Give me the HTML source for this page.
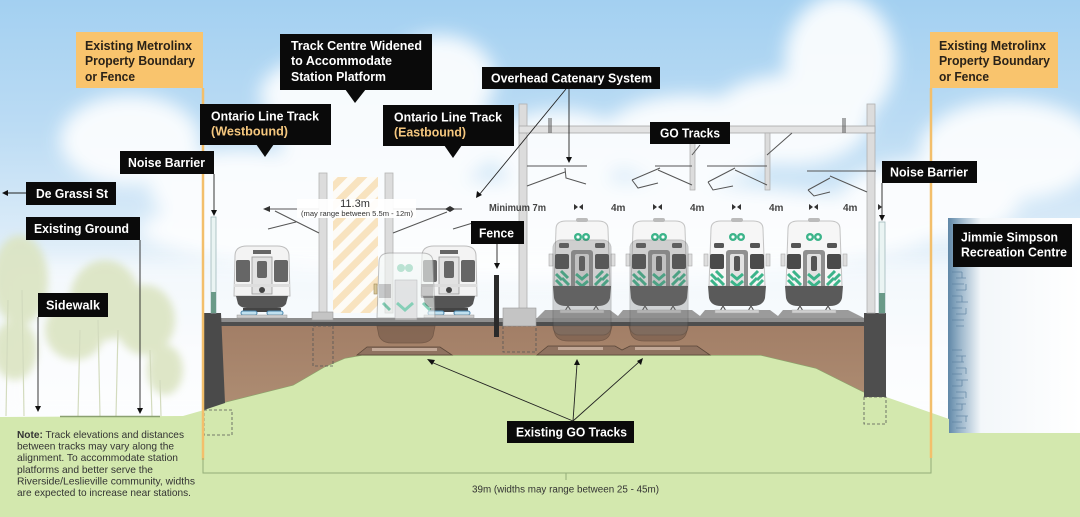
<!DOCTYPE html>
<html><head><meta charset="utf-8"><style>
html,body{margin:0;padding:0;width:1080px;height:517px;overflow:hidden;background:#fff}
svg{display:block}
.lb{font-family:"Liberation Sans",sans-serif;font-weight:bold;font-size:13px;fill:#fff}
.lo{font-family:"Liberation Sans",sans-serif;font-weight:bold;font-size:13px;fill:#2a2218}
.sm{font-family:"Liberation Sans",sans-serif;font-size:10px;fill:#333}
.dm{font-family:"Liberation Sans",sans-serif;font-weight:bold;font-size:10px;fill:#444}
</style></head><body>
<svg width="1080" height="517" viewBox="0 0 1080 517" xmlns="http://www.w3.org/2000/svg">
<defs>
<linearGradient id="sky" x1="0" y1="0" x2="0" y2="1">
<stop offset="0" stop-color="#a3d0f1"/>
<stop offset="0.25" stop-color="#bcdcf4"/>
<stop offset="0.5" stop-color="#e2eff9"/>
<stop offset="0.7" stop-color="#f7fafd"/>
<stop offset="1" stop-color="#ffffff"/>
</linearGradient>
<filter id="blur" x="-30%" y="-30%" width="160%" height="160%"><feGaussianBlur stdDeviation="9"/></filter>
<filter id="blur2" x="-30%" y="-30%" width="160%" height="160%"><feGaussianBlur stdDeviation="4"/></filter>
<pattern id="hatch" patternUnits="userSpaceOnUse" width="14" height="14" patternTransform="rotate(45)">
<rect width="14" height="14" fill="#fdfbf6"/><rect width="7" height="14" fill="#f8e3bf"/>
</pattern>
<linearGradient id="bld" x1="0" y1="0" x2="1" y2="0">
<stop offset="0" stop-color="#5f87a7"/>
<stop offset="0.1" stop-color="#9fb9cd"/>
<stop offset="0.25" stop-color="#f3f7fa"/>
<stop offset="1" stop-color="#ffffff"/>
</linearGradient>
<linearGradient id="earth" x1="0" y1="0" x2="0" y2="1">
<stop offset="0" stop-color="#a27e66"/>
<stop offset="1" stop-color="#ad8c72"/>
</linearGradient>
<g id="go">
<rect x="-3" y="34" width="4" height="12" fill="#ddd" stroke="#aaa" stroke-width=".6"/>
<rect x="59" y="34" width="4" height="12" fill="#ddd" stroke="#aaa" stroke-width=".6"/>
<path d="M4,9 Q4,1 14,1 L46,1 Q56,1 56,9 L58,66 L2,66 Z" fill="#f6f6f6" stroke="#c4c4c4" stroke-width="1"/>
<rect x="24" y="-2" width="12" height="4" rx="2" fill="#bbb"/>
<circle cx="26" cy="17" r="4" fill="#3cb48a"/><circle cx="34" cy="17" r="4" fill="#3cb48a"/>
<circle cx="26" cy="17" r="1.6" fill="#fff"/><circle cx="34" cy="17" r="1.6" fill="#fff"/>
<rect x="7" y="23" width="10" height="5" rx="1.5" fill="#555"/><rect x="43" y="23" width="10" height="5" rx="1.5" fill="#555"/>
<rect x="3" y="34" width="14" height="15" rx="2" fill="#4a4a4a"/><rect x="43" y="34" width="14" height="15" rx="2" fill="#4a4a4a"/>
<rect x="19" y="30" width="22" height="44" rx="3" fill="#8f8f8f"/>
<rect x="23" y="34" width="14" height="38" rx="2" fill="#e2e2e2"/>
<rect x="27" y="36" width="6" height="15" rx="2" fill="#555"/>
<path d="M4,54 L10,60 M4,60 L10,66 M9,51 L16,58 M10,58 L17,65" stroke="#3cb48a" stroke-width="3"/>
<path d="M56,54 L50,60 M56,60 L50,66 M51,51 L44,58 M50,58 L43,65" stroke="#3cb48a" stroke-width="3"/>
<path d="M24,54 L30,59 L36,54 M24,61 L30,66 L36,61" stroke="#3cb48a" stroke-width="3" fill="none"/>
<path d="M1,66 L59,66 L58,78 Q56,86 46,86 L14,86 Q4,86 2,78 Z" fill="#5a5a5a"/>
<path d="M16,86 L13,91 M16,86 L19,91 M44,86 L41,91 M44,86 L47,91" stroke="#555" stroke-width="1.2"/>
<rect x="8" y="90" width="44" height="3" fill="#d0d0d0" stroke="#aaa" stroke-width=".5"/>
</g>
<g id="ol">
<path d="M2,10 Q2,0 14,0 L44,0 Q56,0 56,10 L57,50 L1,50 Z" fill="#f3f3f3" stroke="#bdbdbd" stroke-width="1"/>
<rect x="20" y="4" width="18" height="4" fill="#666"/>
<rect x="3" y="14" width="14" height="22" rx="2" fill="#666"/>
<rect x="41" y="14" width="14" height="22" rx="2" fill="#666"/>
<rect x="19" y="11" width="20" height="37" fill="#e2e2e2" stroke="#999" stroke-width=".8"/>
<rect x="24" y="15" width="10" height="17" rx="2" fill="#666"/>
<rect x="1" y="38" width="56" height="3" fill="#ddd"/>
<circle cx="29" cy="44" r="3" fill="#444"/>
<path d="M3,50 L55,50 L53,58 Q50,62 44,62 L14,62 Q8,62 5,58 Z" fill="#555"/>
<rect x="10" y="62" width="38" height="4" fill="#444"/>
<rect x="8" y="65" width="16" height="4" rx="2" fill="#bfe0ef" stroke="#4a86ad" stroke-width="1"/>
<rect x="34" y="65" width="16" height="4" rx="2" fill="#bfe0ef" stroke="#4a86ad" stroke-width="1"/>
<rect x="4" y="69" width="50" height="3" fill="#ccc" stroke="#999" stroke-width=".5"/>
</g>
</defs>

<!-- sky -->
<rect width="1080" height="517" fill="url(#sky)"/>
<g filter="url(#blur)" fill="#fff" opacity="0.9">
<ellipse cx="390" cy="140" rx="110" ry="55"/>
<ellipse cx="330" cy="95" rx="70" ry="40"/>
<ellipse cx="440" cy="80" rx="55" ry="45"/>
<ellipse cx="840" cy="60" rx="55" ry="65"/>
<ellipse cx="790" cy="120" rx="80" ry="45"/>
<ellipse cx="690" cy="140" rx="90" ry="45"/>
<ellipse cx="560" cy="150" rx="70" ry="40"/>
<ellipse cx="130" cy="140" rx="70" ry="45"/>
<ellipse cx="1010" cy="150" rx="90" ry="50"/>
<ellipse cx="240" cy="190" rx="90" ry="40"/>
<ellipse cx="930" cy="200" rx="90" ry="40"/>
<ellipse cx="540" cy="230" rx="400" ry="50"/>
</g>
<rect x="0" y="260" width="1080" height="160" fill="#fff" opacity="0.55" filter="url(#blur)"/>

<!-- trees -->
<g opacity="0.9">
<g filter="url(#blur2)" fill="#dbe4c2">
<ellipse cx="20" cy="280" rx="28" ry="45"/>
<ellipse cx="105" cy="300" rx="35" ry="40"/>
<ellipse cx="75" cy="330" rx="30" ry="30"/>
<ellipse cx="145" cy="320" rx="30" ry="35"/>
<ellipse cx="165" cy="370" rx="18" ry="25"/>
<ellipse cx="15" cy="350" rx="22" ry="30"/>
</g>
<g stroke="#cfd8b8" stroke-width="1.2">
<line x1="8" y1="300" x2="6" y2="416"/><line x1="22" y1="290" x2="24" y2="416"/>
<line x1="80" y1="330" x2="78" y2="416"/><line x1="98" y1="320" x2="100" y2="416"/>
<line x1="118" y1="330" x2="116" y2="416"/><line x1="150" y1="350" x2="152" y2="416"/>
<line x1="160" y1="380" x2="161" y2="416"/>
</g>
</g>

<!-- building -->
<rect x="948" y="218" width="132" height="215" fill="url(#bld)"/>
<g stroke="#5a7f9e" stroke-width="0.8" fill="none" opacity="0.8">
<path d="M952,272 h10 M956,278 h10 M952,284 h12 M956,290 h10 M952,296 h10 M956,302 h12 M952,308 h10 M956,314 h10 M952,320 h12 M956,326 h8 M952,350 h10 M956,356 h10 M952,362 h12 M956,368 h10 M952,374 h10 M956,380 h12 M952,386 h10 M956,392 h10 M952,398 h12 M956,404 h10 M952,410 h10 M956,416 h12 M952,422 h10 M956,428 h10"/>
<path d="M962,272 v6 M966,284 v6 M962,296 v6 M966,308 v6 M962,356 v6 M966,368 v6 M962,380 v6 M966,392 v6 M962,404 v6 M966,416 v6"/>
</g>

<!-- ground -->
<path d="M0,417 L183,416 L204,410 L221,403 L293,385 L324,367 L345,358 L362,355 L761,355 L816,368 L864,392 L886,397 L949,419 L949,433 L1080,433 L1080,517 L0,517 Z" fill="#d3e8ae"/>
<line x1="60" y1="416.5" x2="160" y2="416.5" stroke="#8aa070" stroke-width="1.5"/>
<path d="M221,403 L293,385 L324,367 L345,358 L362,355 L761,355 L816,368 L864,392" fill="none" stroke="#8aa46a" stroke-width="1.2"/>

<!-- earth -->
<path d="M221,324 L864,324 L864,392 L816,368 L761,355 L362,355 L345,358 L324,367 L293,385 L221,403 Z" fill="url(#earth)"/>

<!-- deck -->
<rect x="221" y="318" width="643" height="4" fill="#8e8e8e"/>
<rect x="221" y="322" width="643" height="4" fill="#4e4e4e"/>
<path d="M537,318 L545,310 L610,310 L618,316 L623,310 L692,310 L700,316 L705,310 L770,310 L778,316 L783,310 L848,310 L864,318 Z" fill="#9b9b9b"/>

<!-- walls -->
<path d="M204,313 L221,313 L225,403 L204,410 Z" fill="#4a4a4a"/>
<rect x="864" y="313" width="22" height="84" fill="#4e4e4e"/>
<g fill="none" stroke="#555" stroke-width="0.8" stroke-dasharray="3,2">
<rect x="204" y="410" width="28" height="25"/>
<rect x="864" y="397" width="22" height="27"/>
<rect x="313" y="326" width="20" height="40"/>
<rect x="503" y="326" width="33" height="26"/>
</g>

<!-- lower ballast / existing tracks in earth -->
<path d="M357,355 L367,347 L440,347 L452,355 Z" fill="#8f7260" stroke="#5a4638" stroke-width="0.8"/>
<rect x="372" y="348" width="65" height="3" fill="#c2a897"/>
<path d="M537,355 L548,346 L615,346 L622,350 L630,346 L697,346 L710,355 Z" fill="#8f7260" stroke="#5a4638" stroke-width="0.8"/>
<rect x="558" y="347" width="45" height="3" fill="#c2a897"/><rect x="635" y="347" width="45" height="3" fill="#c2a897"/>
<g fill="#6e5546" opacity="0.55" stroke="#4d3a2e" stroke-width="0.8">
<path d="M377,326 L435,326 L433,336 Q430,343 420,343 L392,343 Q382,343 379,336 Z"/>
<path d="M553,326 L612,326 L610,334 Q607,341 597,341 L568,341 Q558,341 555,334 Z"/>
<path d="M629,326 L688,326 L686,334 Q683,341 673,341 L644,341 Q634,341 631,334 Z"/>
</g>

<!-- orange boundary lines -->
<line x1="203" y1="88" x2="203" y2="460" stroke="#f3bf6b" stroke-width="2.5"/>
<line x1="931" y1="88" x2="931" y2="458" stroke="#f3bf6b" stroke-width="2.5"/>

<!-- dimension line bottom -->
<path d="M203,458 L203,473 L931,473 L931,458 M566,473 L566,480" fill="none" stroke="#93ad78" stroke-width="1"/>

<!-- noise barriers -->
<rect x="211" y="217" width="5" height="96" fill="#eaf4f3" stroke="#9fb8bb" stroke-width="0.8"/>
<rect x="211" y="292" width="5" height="21" fill="#6a9a88"/>
<rect x="879" y="222" width="6" height="91" fill="#eaf4f3" stroke="#9fb8bb" stroke-width="0.8"/>
<rect x="879" y="293" width="6" height="20" fill="#6a9a88"/>

<!-- hatched platform zone -->
<rect x="333" y="177" width="45" height="136" fill="url(#hatch)"/>

<!-- OL poles -->
<rect x="319" y="173" width="8" height="140" fill="#dcdcdc" stroke="#b5b5b5" stroke-width="0.8"/>
<rect x="385" y="173" width="8" height="140" fill="#dcdcdc" stroke="#b5b5b5" stroke-width="0.8"/>
<rect x="312" y="312" width="21" height="8" fill="#c4c4c4" stroke="#999" stroke-width="0.6"/>
<g stroke="#555" stroke-width="1" fill="none">
<path d="M267,209 L319,209 M275,211 L319,233 M268,229 L296,222"/>
<path d="M393,209 L462,209 M393,233 L447,212 M453,229 L476,222"/>
</g>
<path d="M263,209 L270,206 L270,212 Z" fill="#333"/>
<path d="M445,209 L450,206 L450,212 Z M455,209 L450,206 L450,212 Z" fill="#333"/>

<!-- GO gantry -->
<rect x="519" y="104" width="8" height="206" fill="#dcdcdc" stroke="#b0b0b0" stroke-width="0.8"/>
<rect x="867" y="104" width="8" height="209" fill="#dcdcdc" stroke="#b0b0b0" stroke-width="0.8"/>
<rect x="519" y="126" width="356" height="7" fill="#e2e2e2" stroke="#a8a8a8" stroke-width="0.8"/>
<rect x="503" y="308" width="33" height="18" fill="#c4c4c4" stroke="#999" stroke-width="0.6"/>
<rect x="690" y="133" width="5" height="57" fill="#dcdcdc" stroke="#aaa" stroke-width="0.7"/>
<rect x="765" y="133" width="5" height="57" fill="#dcdcdc" stroke="#aaa" stroke-width="0.7"/>
<g stroke="#555" stroke-width="1" fill="none">
<path d="M549,118 v15 M551,118 v15 M843,118 v15 M845,118 v15 M767,155 L792,133 M692,155 L700,145"/>
<path d="M527,166 L587,166 M527,186 L565,172 M565,168 L566,178 L586,184"/>
<path d="M632,180 L660,168 M655,166 L692,166 M658,170 L692,185 M632,180 L638,188 L658,183"/>
<path d="M708,182 L735,168 M707,166 L767,166 M735,170 L767,185 M708,182 L713,190 L733,186"/>
<path d="M808,190 L830,178 M807,171 L876,171 M830,176 L867,192 M808,190 L814,196 L830,192"/>
</g>

<!-- OL trains -->
<use href="#ol" x="233" y="246"/>
<use href="#ol" x="420" y="246"/>
<!-- translucent GO middle -->
<g opacity="0.6">
<path d="M379,262 Q379,253 390,253 L422,253 Q433,253 433,262 L435,318 L377,318 Z" fill="#f4f8f6" stroke="#999" stroke-width="1"/>
<circle cx="401" cy="268" r="4" fill="#8fd1b6"/><circle cx="409" cy="268" r="4" fill="#8fd1b6"/>
<rect x="379" y="284" width="12" height="14" fill="#aaa"/><rect x="421" y="284" width="12" height="14" fill="#aaa"/>
<rect x="395" y="280" width="22" height="40" fill="#d5d5d5" stroke="#999" stroke-width=".6"/>
<path d="M383,303 L390,310 M397,303 L405,310 L413,303 M423,303 L430,310" stroke="#3cb48a" stroke-width="3" fill="none"/>
</g>
<rect x="374" y="284" width="3" height="10" fill="#d8c79a" stroke="#a08a5a" stroke-width=".6"/>

<!-- fence -->
<rect x="494" y="275" width="5" height="62" fill="#2a2a2a"/>

<!-- GO trains -->
<use href="#go" x="552" y="220"/>
<use href="#go" x="629" y="220"/>
<use href="#go" x="707" y="220"/>
<use href="#go" x="784" y="220"/>
<g opacity="0.3">
<rect x="553" y="240" width="58" height="95" rx="8" fill="#777" stroke="#444"/>
<rect x="630" y="240" width="58" height="95" rx="8" fill="#777" stroke="#444"/>
</g>

<!-- dimension labels -->
<text class="dm" x="489" y="211" textLength="57" lengthAdjust="spacingAndGlyphs">Minimum 7m</text>
<g class="dm">
<text x="611" y="211">4m</text><text x="690" y="211">4m</text><text x="769" y="211">4m</text><text x="843" y="211">4m</text>
</g>
<g fill="#333">
<path d="M574,204 L578,207 L574,210 Z M583,204 L579,207 L583,210 Z"/>
<path d="M653,204 L657,207 L653,210 Z M662,204 L658,207 L662,210 Z"/>
<path d="M732,204 L736,207 L732,210 Z M741,204 L737,207 L741,210 Z"/>
<path d="M809,204 L813,207 L809,210 Z M818,204 L814,207 L818,210 Z"/>
<path d="M878,204 L882,207 L878,210 Z"/>
</g>
<rect x="297" y="199" width="119" height="19" fill="#fff" opacity="0.92"/>
<text x="355" y="207" text-anchor="middle" class="dm" style="font-weight:normal;font-size:11px;fill:#333">11.3m</text>
<text x="357" y="216" text-anchor="middle" style="font-family:'Liberation Sans',sans-serif;font-size:7.5px;fill:#333" textLength="112" lengthAdjust="spacingAndGlyphs">(may range between 5.5m - 12m)</text>

<!-- leader lines -->
<g stroke="#222" stroke-width="0.9" fill="none">
<line x1="26" y1="193" x2="6" y2="193"/>
<line x1="140" y1="240" x2="140" y2="410"/>
<line x1="38" y1="317" x2="38" y2="408"/>
<line x1="214" y1="174" x2="214" y2="212"/>
<line x1="882" y1="183" x2="882" y2="217"/>
<line x1="497" y1="244" x2="497" y2="265"/>
<line x1="569" y1="89" x2="569" y2="158"/>
<line x1="566" y1="89" x2="479" y2="195"/>
<line x1="573" y1="421" x2="431" y2="362"/>
<line x1="573" y1="421" x2="577" y2="364"/>
<line x1="573" y1="421" x2="639" y2="362"/>
</g>
<g fill="#111">
<path d="M2,193 L8,190 L8,196 Z"/>
<path d="M140,414 L137,408 L143,408 Z"/>
<path d="M38,412 L35,406 L41,406 Z"/>
<path d="M214,216 L211,210 L217,210 Z"/>
<path d="M882,221 L879,215 L885,215 Z"/>
<path d="M497,269 L494,263 L500,263 Z"/>
<path d="M569,163 L566,157 L572,157 Z"/>
<path d="M476,198 L477,191 L482,195 Z"/>
<path d="M427,359 L435,360 L432,365 Z"/>
<path d="M577,359 L580,365 L574,365 Z"/>
<path d="M643,358 L641,365 L637,361 Z"/>
</g>

<!-- labels -->
<rect x="76" y="32" width="127" height="56" fill="#f9c46d"/>
<text class="lo" x="85" y="50" textLength="107" lengthAdjust="spacingAndGlyphs">Existing Metrolinx</text>
<text class="lo" x="85" y="65" textLength="110" lengthAdjust="spacingAndGlyphs">Property Boundary</text>
<text class="lo" x="85" y="81" textLength="50" lengthAdjust="spacingAndGlyphs">or Fence</text>

<rect x="930" y="32" width="128" height="56" fill="#f9c46d"/>
<text class="lo" x="939" y="50" textLength="107" lengthAdjust="spacingAndGlyphs">Existing Metrolinx</text>
<text class="lo" x="939" y="65" textLength="111" lengthAdjust="spacingAndGlyphs">Property Boundary</text>
<text class="lo" x="939" y="81" textLength="50" lengthAdjust="spacingAndGlyphs">or Fence</text>

<rect x="280" y="34" width="152" height="56" fill="#0a0a0a"/>
<path d="M345,89 L366,89 L355,103 Z" fill="#0a0a0a"/>
<text class="lb" x="291" y="50" textLength="131" lengthAdjust="spacingAndGlyphs">Track Centre Widened</text>
<text class="lb" x="291" y="65" textLength="101" lengthAdjust="spacingAndGlyphs">to Accommodate</text>
<text class="lb" x="291" y="81" textLength="95" lengthAdjust="spacingAndGlyphs">Station Platform</text>

<rect x="482" y="67" width="178" height="22" fill="#0a0a0a"/>
<text class="lb" x="491" y="82.5" textLength="161" lengthAdjust="spacingAndGlyphs">Overhead Catenary System</text>

<rect x="200" y="104" width="131" height="41" fill="#0a0a0a"/>
<path d="M256,144 L274,144 L265,157 Z" fill="#0a0a0a"/>
<text class="lb" x="211" y="120.5" textLength="108" lengthAdjust="spacingAndGlyphs">Ontario Line Track</text>
<text class="lb" x="211" y="135.5" textLength="77" lengthAdjust="spacingAndGlyphs" style="fill:#f5c77e">(Westbound)</text>

<rect x="383" y="105" width="131" height="41" fill="#0a0a0a"/>
<path d="M444,145 L462,145 L453,158 Z" fill="#0a0a0a"/>
<text class="lb" x="394" y="121.5" textLength="108" lengthAdjust="spacingAndGlyphs">Ontario Line Track</text>
<text class="lb" x="394" y="136.5" textLength="72" lengthAdjust="spacingAndGlyphs" style="fill:#f5c77e">(Eastbound)</text>

<rect x="120" y="151" width="94" height="23" fill="#0a0a0a"/>
<text class="lb" x="128" y="167" textLength="77" lengthAdjust="spacingAndGlyphs">Noise Barrier</text>

<rect x="882" y="161" width="95" height="22" fill="#0a0a0a"/>
<text class="lb" x="890" y="176.5" textLength="78" lengthAdjust="spacingAndGlyphs">Noise Barrier</text>

<rect x="26" y="182" width="90" height="23" fill="#0a0a0a"/>
<text class="lb" x="36" y="198" textLength="72" lengthAdjust="spacingAndGlyphs">De Grassi St</text>

<rect x="26" y="217" width="114" height="23" fill="#0a0a0a"/>
<text class="lb" x="34" y="233" textLength="95" lengthAdjust="spacingAndGlyphs">Existing Ground</text>

<rect x="38" y="293" width="70" height="24" fill="#0a0a0a"/>
<text class="lb" x="46" y="309.5" textLength="54" lengthAdjust="spacingAndGlyphs">Sidewalk</text>

<rect x="471" y="221" width="53" height="23" fill="#0a0a0a"/>
<text class="lb" x="479" y="237.5" textLength="35" lengthAdjust="spacingAndGlyphs">Fence</text>

<rect x="650" y="122" width="80" height="22" fill="#0a0a0a"/>
<text class="lb" x="660" y="137.5" textLength="60" lengthAdjust="spacingAndGlyphs">GO Tracks</text>

<rect x="953" y="224" width="119" height="43" fill="#0a0a0a"/>
<text class="lb" x="961" y="241.5" textLength="97" lengthAdjust="spacingAndGlyphs">Jimmie Simpson</text>
<text class="lb" x="961" y="256.5" textLength="106" lengthAdjust="spacingAndGlyphs">Recreation Centre</text>

<rect x="507" y="421" width="127" height="22" fill="#0a0a0a"/>
<text class="lb" x="516" y="436.5" textLength="111" lengthAdjust="spacingAndGlyphs">Existing GO Tracks</text>

<!-- note -->
<g class="sm" style="font-size:10.5px">
<text x="17" y="438" textLength="167" lengthAdjust="spacingAndGlyphs"><tspan font-weight="bold">Note:</tspan> Track elevations and distances</text>
<text x="17" y="449.5" textLength="157" lengthAdjust="spacingAndGlyphs">between tracks may vary along the</text>
<text x="17" y="461" textLength="161" lengthAdjust="spacingAndGlyphs">alignment. To accommodate station</text>
<text x="17" y="473" textLength="136" lengthAdjust="spacingAndGlyphs">platforms and better serve the</text>
<text x="17" y="484.5" textLength="178" lengthAdjust="spacingAndGlyphs">Riverside/Leslieville community, widths</text>
<text x="17" y="496" textLength="174" lengthAdjust="spacingAndGlyphs">are expected to increase near stations.</text>
</g>
<text class="sm" x="472" y="492.5" textLength="187" lengthAdjust="spacingAndGlyphs">39m (widths may range between 25 - 45m)</text>
</svg>
</body></html>
